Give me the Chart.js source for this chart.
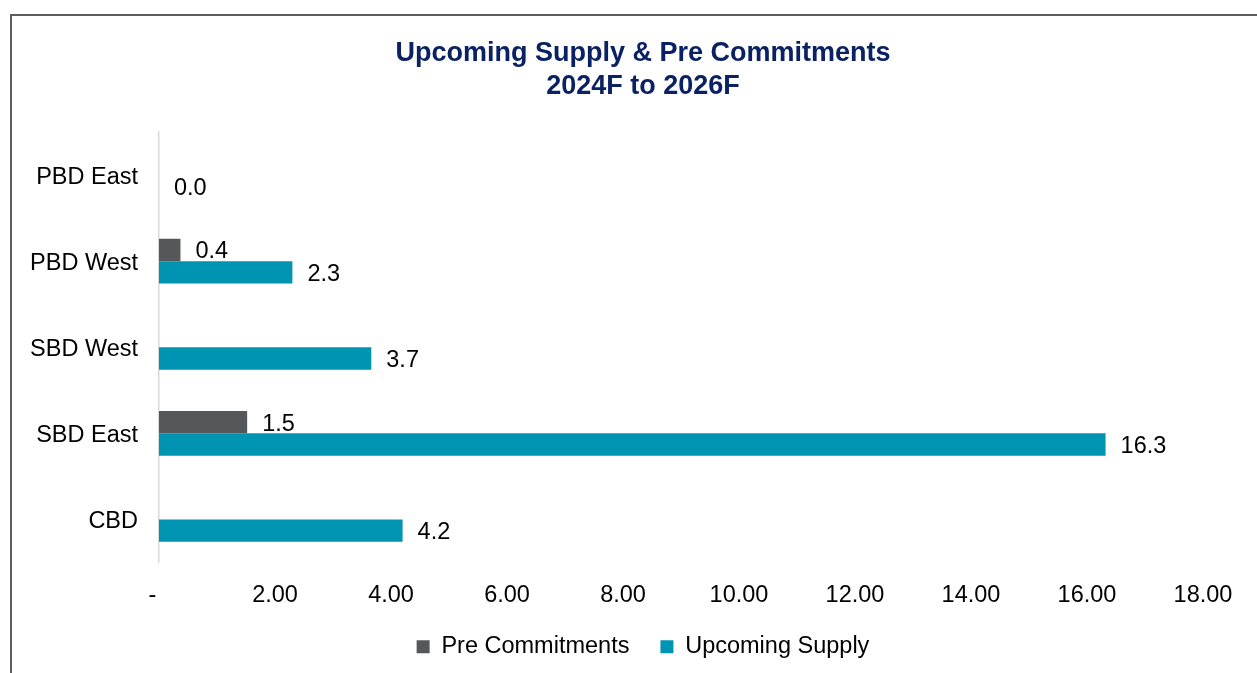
<!DOCTYPE html>
<html>
<head>
<meta charset="utf-8">
<script src="https://cdn.jsdelivr.net/npm/chart.js@4/dist/chart.umd.min.js"></script>
<style>
  html, body { margin: 0; padding: 0; background: #ffffff; }
  #wrap { position: relative; width: 1257px; height: 673px; overflow: hidden; background: #fff; }
  #frame { position: absolute; left: 10px; top: 14px; width: 2000px; height: 2000px;
           border-top: 2px solid #5b5e61; border-left: 2px solid #5b5e61; }
  #c { position: absolute; left: 0; top: 0; }
</style>
</head>
<body>
<div id="wrap">
  <div id="frame"></div>
  <canvas id="c" width="1257" height="673"></canvas>
</div>
<script>
// ---- data ----
const categories = ['PBD East', 'PBD West', 'SBD West', 'SBD East', 'CBD'];
const preCommitments = [null, 0.37, null, 1.52, null];
const upcomingSupply = [0.0, 2.3, 3.66, 16.32, 4.2];
const xTickValues = [0, 2, 4, 6, 8, 10, 12, 14, 16, 18];
const titleLines = ['Upcoming Supply & Pre Commitments', '2024F to 2026F'];
const seriesNames = ['Pre Commitments', 'Upcoming Supply'];

const FONT = 'Liberation Sans, Arial, sans-serif';
const GREY = '#54585b';
const TEAL = '#0094b3';
const CENTER_SHIFT = 41.5; // title/legend centred on the whole frame, not the padded area

const valueLabels = {
  id: 'valueLabels',
  afterDatasetsDraw(chart) {
    const ctx = chart.ctx;
    ctx.save();
    ctx.font = '23.5px ' + FONT;
    ctx.fillStyle = '#000';
    ctx.textAlign = 'left';
    ctx.textBaseline = 'middle';
    chart.data.datasets.forEach((ds, di) => {
      const meta = chart.getDatasetMeta(di);
      meta.data.forEach((el, i) => {
        const v = ds.data[i];
        if (v === null || v === undefined) return;
        ctx.fillText(v.toFixed(1), el.x + 15, el.y + 2);
      });
    });
    ctx.restore();
  }
};

const shiftBlocks = {
  id: 'shiftBlocks',
  afterLayout(chart) {
    [chart.titleBlock, chart.legend].forEach(b => {
      if (!b) return;
      b.left += CENTER_SHIFT;
      b.right += CENTER_SHIFT;
    });
  }
};

new Chart(document.getElementById('c'), {
  type: 'bar',
  data: {
    labels: categories,
    datasets: [
      { label: seriesNames[0], data: preCommitments, backgroundColor: GREY, borderWidth: 0,
        categoryPercentage: 0.52, barPercentage: 1.0 },
      { label: seriesNames[1], data: upcomingSupply, backgroundColor: TEAL, borderWidth: 0,
        categoryPercentage: 0.52, barPercentage: 1.0 }
    ]
  },
  options: {
    indexAxis: 'y',
    responsive: false,
    animation: false,
    devicePixelRatio: 1,
    layout: { padding: { left: 0, right: 54, top: 0, bottom: 4.5 } },
    scales: {
      x: {
        min: 0, max: 18,
        afterBuildTicks: (s) => { s.ticks = xTickValues.map(v => ({ value: v })); },
        ticks: {
          callback: (v) => v === 0 ? '-  ' : Number(v).toFixed(2),
          font: { family: FONT, size: 23.5 }, color: '#000', padding: 19, maxRotation: 0
        },
        grid: { display: false, drawTicks: false },
        border: { display: false },
        afterFit: (s) => { s.height = 41.5; }
      },
      y: {
        grid: { display: false, drawTicks: false },
        border: { display: true, color: '#d9d9d9', width: 1.5 },
        ticks: { font: { family: FONT, size: 23.5 }, color: '#000', padding: 21, labelOffset: 2 },
        afterFit: (s) => { s.width = 159; }
      }
    },
    plugins: {
      title: {
        display: true,
        text: titleLines,
        color: '#0a2163',
        font: { family: FONT, size: 27, weight: 'bold', lineHeight: 1.222 },
        padding: { top: 37.5, bottom: 28.5 }
      },
      legend: {
        position: 'bottom',
        labels: {
          boxWidth: 13, boxHeight: 13, padding: 31,
          font: { family: FONT, size: 23.5 }, color: '#000'
        }
      },
      tooltip: { enabled: false }
    }
  },
  plugins: [valueLabels, shiftBlocks]
});
</script>
</body>
</html>
